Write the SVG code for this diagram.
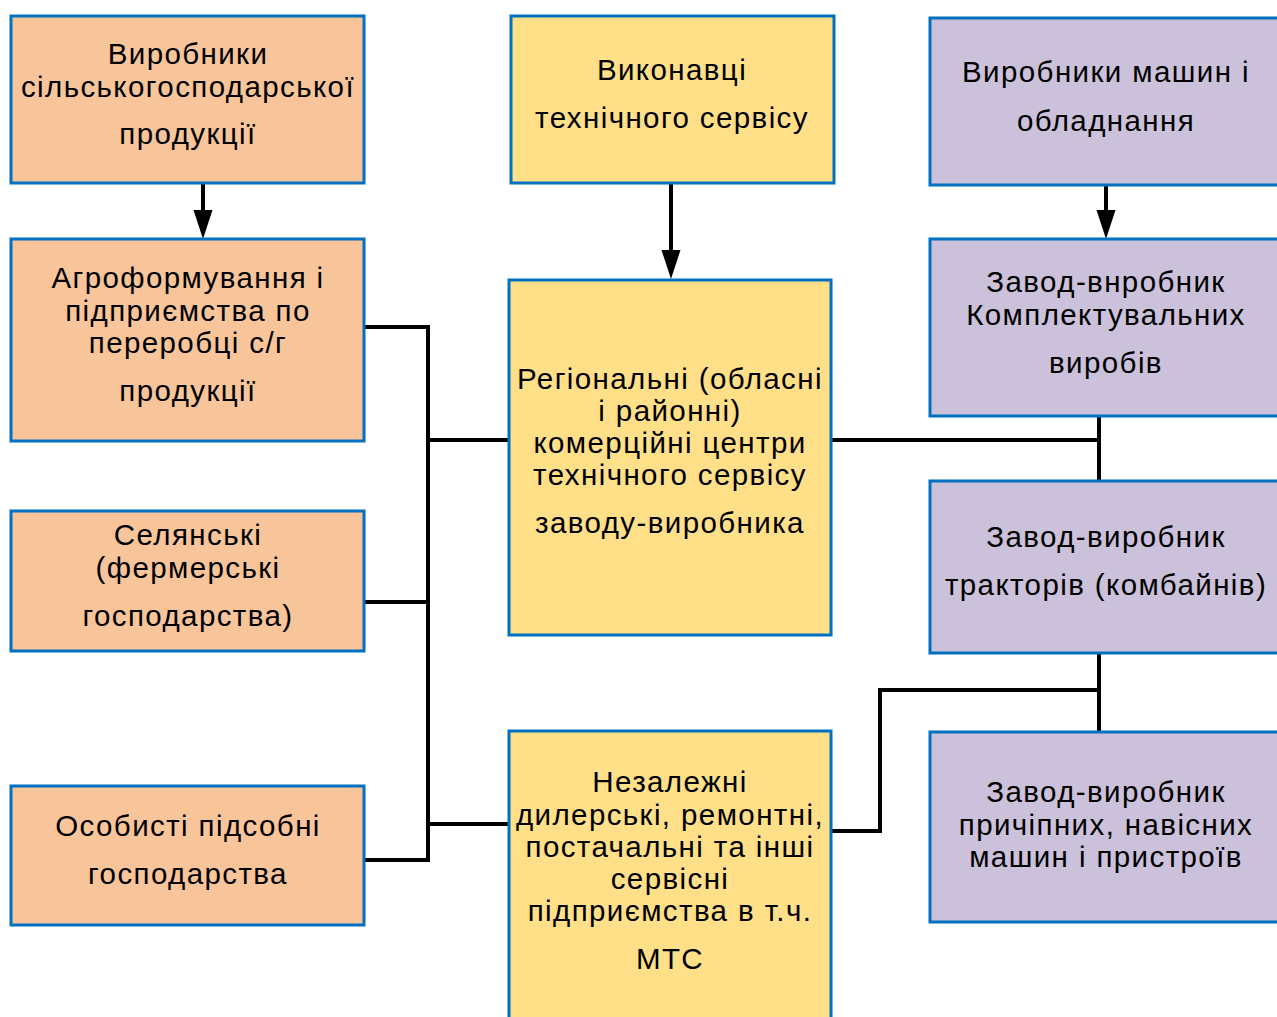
<svg xmlns="http://www.w3.org/2000/svg" width="1277" height="1017" viewBox="0 0 1277 1017">
<defs>
<style>
.box{stroke:#0070C0;stroke-width:3}
.o{fill:#F8C59B}
.y{fill:#FFDF88}
.p{fill:#CCC1DA}
text{font-family:"Liberation Sans",Arial,sans-serif;font-size:29.5px;letter-spacing:1.4px;fill:#000;text-anchor:middle}
.c{fill:none;stroke:#000;stroke-width:4}
</style>
<marker id="ah" markerWidth="30" markerHeight="20" refX="0" refY="9.5" orient="auto" markerUnits="userSpaceOnUse">
<path d="M0,0 L29,9.5 L0,19 z" fill="#000"/>
</marker>
</defs>
<rect width="1277" height="1017" fill="#fff"/>
<g id="connectors">
<line class="c" x1="203" y1="181" x2="203" y2="210" marker-end="url(#ah)"/>
<line class="c" x1="671" y1="181" x2="671" y2="250" marker-end="url(#ah)"/>
<line class="c" x1="1106" y1="183" x2="1106" y2="210" marker-end="url(#ah)"/>
<polyline class="c" points="364,327 428,327 428,860 364,860"/>
<line class="c" x1="364" y1="602" x2="428" y2="602"/>
<line class="c" x1="428" y1="440" x2="509" y2="440"/>
<line class="c" x1="428" y1="824" x2="509" y2="824"/>
<line class="c" x1="831" y1="440" x2="1099" y2="440"/>
<line class="c" x1="1099" y1="416" x2="1099" y2="481"/>
<line class="c" x1="1099" y1="653" x2="1099" y2="732"/>
<polyline class="c" points="831,831 880,831 880,690 1099,690"/>
</g>
<g id="n1"><rect class="box o" x="11" y="16" width="353" height="167"/>
<text x="188" y="64">Виробники</text><text x="188" y="97">сільськогосподарської</text><text x="188" y="144">продукції</text></g>
<g id="n2"><rect class="box o" x="11" y="239" width="353" height="202"/>
<text x="188" y="288">Агроформування і</text><text x="188" y="321">підприємства по</text><text x="188" y="353">переробці с/г</text><text x="188" y="401">продукції</text></g>
<g id="n3"><rect class="box o" x="11" y="511" width="353" height="140"/>
<text x="188" y="545">Селянські</text><text x="188" y="578">(фермерські</text><text x="188" y="626">господарства)</text></g>
<g id="n4"><rect class="box o" x="11" y="786" width="353" height="139"/>
<text x="188" y="836">Особисті підсобні</text><text x="188" y="884">господарства</text></g>
<g id="n5"><rect class="box y" x="511" y="16" width="323" height="167"/>
<text x="672" y="80">Виконавці</text><text x="672" y="128">технічного сервісу</text></g>
<g id="n6"><rect class="box y" x="509" y="280" width="322" height="355"/>
<text x="670" y="389">Регіональні (обласні</text><text x="670" y="421">і районні)</text><text x="670" y="453">комерційні центри</text><text x="670" y="485">технічного сервісу</text><text x="670" y="533">заводу-виробника</text></g>
<g id="n7"><rect class="box y" x="509" y="731" width="322" height="300"/>
<text x="670" y="792">Незалежні</text><text x="670" y="825">дилерські, ремонтні,</text><text x="670" y="857">постачальні та інші</text><text x="670" y="889">сервісні</text><text x="670" y="921">підприємства в т.ч.</text><text x="670" y="969">МТС</text></g>
<g id="n8"><rect class="box p" x="930" y="18" width="353" height="167"/>
<text x="1106" y="82">Виробники машин і</text><text x="1106" y="131">обладнання</text></g>
<g id="n9"><rect class="box p" x="930" y="239" width="353" height="177"/>
<text x="1106" y="292">Завод-внробник</text><text x="1106" y="325">Комплектувальних</text><text x="1106" y="373">виробів</text></g>
<g id="n10"><rect class="box p" x="930" y="481" width="353" height="172"/>
<text x="1106" y="547">Завод-виробник</text><text x="1106" y="595">тракторів (комбайнів)</text></g>
<g id="n11"><rect class="box p" x="930" y="732" width="353" height="190"/>
<text x="1106" y="802">Завод-виробник</text><text x="1106" y="835">причіпних, навісних</text><text x="1106" y="867">машин і пристроїв</text></g>
</svg>
